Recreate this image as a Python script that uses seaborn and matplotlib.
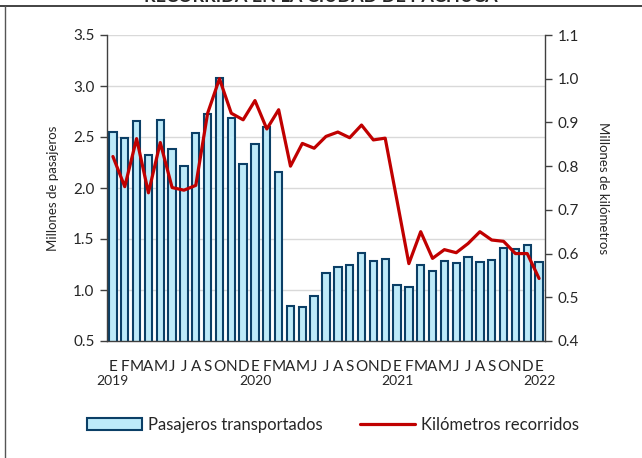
import matplotlib
matplotlib.use("Agg")
import matplotlib.pyplot as plt
from matplotlib.lines import Line2D
from matplotlib.transforms import blended_transform_factory
import seaborn as sns
import numpy as np
import pandas as pd

# Datos mensuales, enero 2019 - enero 2022
meses = ["E", "F", "M", "A", "M", "J", "J", "A", "S", "O", "N", "D"] * 3 + ["E"]
anios = ["2019", "2020", "2021", "2022"]

pasajeros = [2.55, 2.49, 2.66, 2.32, 2.665, 2.38, 2.22, 2.54, 2.73, 3.075, 2.69, 2.24,
             2.43, 2.60, 2.16, 0.84, 0.83, 0.94, 1.17, 1.23, 1.25, 1.36, 1.28, 1.30,
             1.045, 1.025, 1.25, 1.19, 1.28, 1.265, 1.32, 1.27, 1.295, 1.415, 1.405, 1.445,
             1.27]

kilometros = [0.822, 0.753, 0.863, 0.739, 0.854, 0.751, 0.745, 0.756, 0.921, 1.0, 0.921, 0.906,
              0.95, 0.885, 0.929, 0.80, 0.852, 0.841, 0.868, 0.878, 0.865, 0.894, 0.86, 0.864,
              0.721, 0.577, 0.650, 0.589, 0.609, 0.602, 0.623, 0.650, 0.631, 0.628, 0.600, 0.600,
              0.543]

sns.set_theme(style="white")
plt.rcParams['font.family'] = ['Lato', 'DejaVu Sans']

df = pd.DataFrame({"idx": np.arange(len(pasajeros)), "pasajeros": pasajeros,
                   "kilometros": kilometros})

fig = plt.figure(figsize=(6.42, 4.58), dpi=100)
ax = fig.add_axes([107 / 642, 1 - 341 / 458, 438 / 642, 306 / 458])

sns.barplot(data=df, x="idx", y="pasajeros", ax=ax, color="#BDEAF9",
            edgecolor="#0B3F66", linewidth=1.5, width=0.62, saturation=1,
            label="Pasajeros transportados")
if ax.get_legend() is not None:
    ax.get_legend().remove()
ax.set_xlim(-0.5, len(pasajeros) - 0.5)
ax.set_ylim(0.5, 3.5)
ax.set_yticks(np.arange(0.5, 3.51, 0.5))
ax.set_yticklabels([f"{v:.1f}" for v in np.arange(0.5, 3.51, 0.5)], fontsize=11)
ax.yaxis.grid(True, color="#D9D9D9", linewidth=1)
ax.set_axisbelow(True)
ax.set_ylabel("Millones de pasajeros", fontsize=9.5, labelpad=10)
ax.set_xlabel("")

# etiquetas de mes; el año va aparte, bajo cada enero
ax.set_xticks(np.arange(len(meses)), minor=True)
ax.set_xticklabels(meses, minor=True, fontsize=8.5)
ax.set_xticks([-0.5, 11.5, 23.5, 35.5])
ax.set_xticklabels([])
ax.tick_params(axis="x", which="minor", length=0, pad=14)
ax.tick_params(axis="x", which="major", length=5, width=1, color="#404040", direction="out")
ax.tick_params(axis="y", length=5, width=1, color="#404040", direction="out", pad=4, left=True)

trans = blended_transform_factory(ax.transData, fig.transFigure)
for k, anio in enumerate(anios):
    ax.text(k * 12, 1 - 381 / 458, anio, transform=trans, ha="center", va="center",
            fontsize=10)

for s in ["top", "right"]:
    ax.spines[s].set_visible(False)
for s in ["left", "bottom"]:
    ax.spines[s].set_color("#404040")
    ax.spines[s].set_linewidth(1)

ax2 = ax.twinx()
sns.lineplot(data=df, x="idx", y="kilometros", ax=ax2, color="#C00000",
             linewidth=2.3, label="Kilómetros recorridos", legend=False)
ax2.set_ylim(0.4, 1.1)
ax2.set_yticks(np.arange(0.4, 1.101, 0.1))
ax2.set_yticklabels([f"{v:.1f}" for v in np.arange(0.4, 1.101, 0.1)], fontsize=11)
ax2.set_ylabel("Millones de kilómetros", fontsize=9.5, rotation=-90, labelpad=22)
ax2.set_xlim(-0.5, len(pasajeros) - 0.5)
ax2.tick_params(axis="y", length=5, width=1, color="#404040", direction="out", pad=4, right=True)
for s in ["top", "left", "bottom"]:
    ax2.spines[s].set_visible(False)
ax2.spines["right"].set_color("#404040")
ax2.spines["right"].set_linewidth(1)
ax2.grid(False)

h1, l1 = ax.get_legend_handles_labels()
h2, l2 = ax2.get_legend_handles_labels()
fig.legend(h1 + h2, l1 + l2, loc="center", bbox_to_anchor=(333 / 642, 1 - 425 / 458),
           ncol=2, frameon=False, fontsize=12, handlelength=3.3, handleheight=0.75,
           handletextpad=0.35, columnspacing=2.3)

# título recortado y marco del recuadro
fig.text(0.5, 1 - 1.5 / 458, "RECORRIDA EN LA CIUDAD DE PACHUCA", ha="center",
         va="baseline", fontsize=13, fontweight="bold")
fig.add_artist(Line2D([0, 1], [1 - 6 / 458, 1 - 6 / 458], color="#222222", linewidth=1.2,
                      transform=fig.transFigure))
fig.add_artist(Line2D([5 / 642, 5 / 642], [0, 1 - 6 / 458], color="#555555", linewidth=1,
                      transform=fig.transFigure))

fig.savefig("out.png", dpi=100)
